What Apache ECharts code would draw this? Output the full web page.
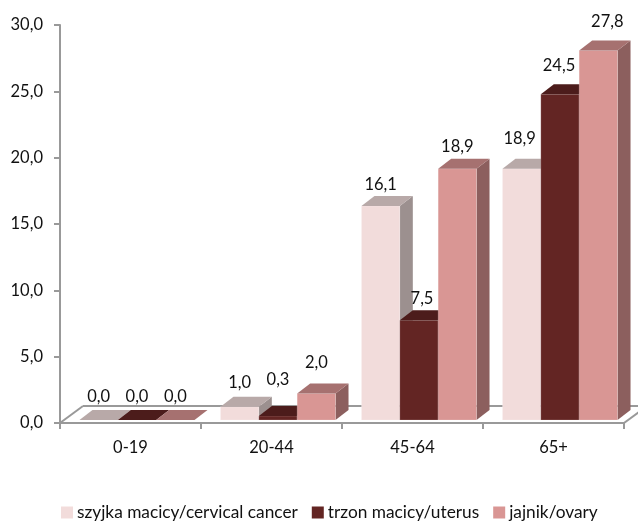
<!DOCTYPE html>
<html><head><meta charset="utf-8">
<style>html,body{margin:0;padding:0;background:#fff}#c{width:638px;height:522px}</style>
<script src="https://cdn.jsdelivr.net/npm/echarts@6/dist/echarts.min.js"></script>
</head><body><div id="c"></div>
<script>
const categories = ['0-19', '20-44', '45-64', '65+'];
const cervical = [0.0, 1.0, 16.1, 18.9];
const uterus = [0.0, 0.3, 7.5, 24.5];
const ovary = [0.0, 2.0, 18.9, 27.8];
const seriesNames = ['szyjka macicy/cervical cancer', 'trzon macicy/uterus', 'jajnik/ovary'];

// appearance, kept apart from the values
const frontColors = ['#F2DCDB', '#632523', '#D99694'];
const topColors = ['#B8A9A8', '#4C1C1B', '#A67170'];
const sideColors = ['#9C908F', '#431817', '#8C5F5E'];
const labelNudge = [
  [[0, 7], [0, 6], [0, 9], [-2, 0]],
  [[0, 7], [0, -6], [3, 8], [-1, 1]],
  [[0, 7], [0, -1], [0, 8], [9, 1]]
];
const FONT = 'Lato, "Open Sans", sans-serif';
const AXIS = '#999999';
const DEPTH_X = 13, DEPTH_Y = 10, BASE_LIFT = 3;

const fmt = v => v.toFixed(1).replace('.', ',');

function barRender(s) {
  return function (params, api) {
    const cat = api.value(0), val = api.value(1);
    const zero = api.coord([cat, 0]);
    const band = api.size([1, 0])[0];
    const unit = api.size([0, 1])[1];
    const w = band * 0.272;
    const x0 = zero[0] + (s - 1.5) * w + 6.5;
    const x1 = x0 + w;
    const yB = zero[1] - BASE_LIFT;
    const yT = yB - val * unit * 1.002;
    const d = [DEPTH_X, DEPTH_Y];
    const n = labelNudge[s][cat];
    const children = [];
    if (val > 0) {
      children.push({ type: 'polygon', shape: { points: [[x1, yB], [x1 + d[0], yB - d[1]], [x1 + d[0], yT - d[1]], [x1, yT]] },
        style: { fill: sideColors[s] } });
      children.push({ type: 'rect', shape: { x: x0, y: yT, width: w, height: yB - yT },
        style: { fill: frontColors[s], stroke: 'rgba(255,255,255,0.18)', lineWidth: 1 } });
    }
    children.push({ type: 'polygon', shape: { points: [[x0, yT], [x1, yT], [x1 + d[0], yT - d[1]], [x0 + d[0], yT - d[1]]] },
      style: { fill: topColors[s] } });
    children.push({ type: 'text', z2: 100,
      style: { text: fmt(val), x: (x0 + x1) / 2 + n[0], y: yT - d[1] - 20 + n[1], align: 'center', verticalAlign: 'middle',
        font: '16.5px ' + FONT, fill: '#111' } });
    return { type: 'group', children };
  };
}

function floorRender(params, api) {
  const a = api.coord([0, 0]);
  const band = api.size([1, 0])[0];
  const left = a[0] - band / 2;
  const right = left + band * categories.length;
  const y = a[1];
  const line = (x1, y1, x2, y2) => ({ type: 'line', shape: { x1, y1, x2, y2 }, style: { stroke: AXIS, lineWidth: 2 } });
  return { type: 'group', children: [
    line(left, y, left + 23, y - 17),
    line(left + 23, y - 17, right + 23, y - 17),
    line(right, y, right + 23, y - 17)
  ] };
}

const series = [{
  type: 'custom', name: 'floor', z: 1, silent: true, clip: false, data: [[0, 0]],
  renderItem: floorRender, encode: { x: 0, y: 1 }
}];
[cervical, uterus, ovary].forEach((vals, s) => {
  series.push({
    type: 'custom', name: seriesNames[s], z: 2, clip: false,
    itemStyle: { color: frontColors[s] },
    data: vals.map((v, i) => [i, v]),
    renderItem: barRender(s), encode: { x: 0, y: 1 }
  });
});

const chart = echarts.init(document.getElementById('c'), null, { renderer: 'canvas' });
chart.setOption({
  animation: false,
  backgroundColor: '#fff',
  grid: { left: 60, right: 14, top: 25, bottom: 99, containLabel: false },
  legend: {
    data: seriesNames, left: 56, top: 499, icon: 'rect', itemWidth: 12, itemHeight: 12, itemGap: 14,
    textStyle: { fontFamily: FONT, fontSize: 17.3, color: '#111', padding: [0, 0, 0, -1] }
  },
  xAxis: {
    type: 'category', data: categories, boundaryGap: true,
    axisLine: { lineStyle: { color: AXIS, width: 2 } },
    axisTick: { show: true, alignWithLabel: false, length: 6, lineStyle: { color: AXIS, width: 2 } },
    axisLabel: { fontFamily: FONT, fontSize: 16.5, color: '#111', margin: 16 },
    splitLine: { show: false }
  },
  yAxis: {
    type: 'value', min: 0, max: 30, interval: 5,
    axisLine: { show: true, lineStyle: { color: AXIS, width: 2 } },
    axisTick: { show: true, length: 6, lineStyle: { color: AXIS, width: 2 } },
    axisLabel: { fontFamily: FONT, fontSize: 16.5, color: '#111', margin: 17, formatter: v => fmt(v) },
    splitLine: { show: false }
  },
  series
});
</script></body></html>
